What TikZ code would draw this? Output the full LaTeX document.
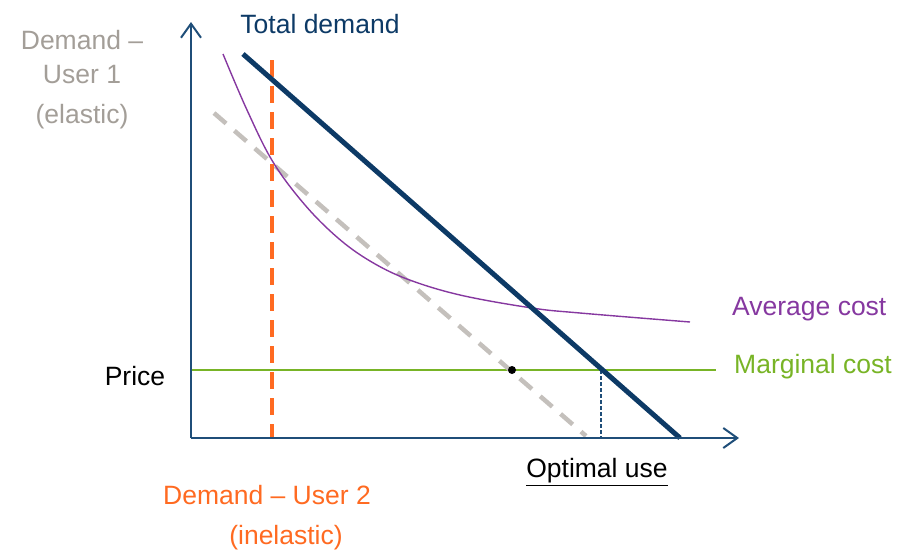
\documentclass[tikz,border=0pt]{standalone}
\usepackage{fontspec}
\setmainfont{Liberation Sans}
\usetikzlibrary{arrows.meta}
\definecolor{navy}{HTML}{0D3A66}
\definecolor{axisblue}{HTML}{1F4E79}
\definecolor{orng}{HTML}{FF6A21}
\definecolor{lgray}{HTML}{C4C0BC}
\definecolor{tgray}{HTML}{A39E98}
\definecolor{purp}{HTML}{8638A0}
\definecolor{grn}{HTML}{78B426}
\tikzset{
  lbl/.style={font=\fontsize{26.5}{30}\selectfont, inner sep=0pt},
  axisline/.style={draw=axisblue, line width=2pt, -{Straight Barb[length=14pt,width=20pt,line width=2pt]}},
}
\begin{document}
\begin{tikzpicture}[x=1pt,y=-1pt]
\useasboundingbox (0,0) rectangle (915,550);
% coordinates
\coordinate (O) at (191,438);
\coordinate (Ytop) at (191,22);
\coordinate (Xend) at (739,438);
\coordinate (TD1) at (243,54);
\coordinate (TD2) at (680,438);
\coordinate (OR1) at (272,60);
\coordinate (OR2) at (272,438);
\coordinate (GR1) at (214,113);
\coordinate (GR2) at (586,436);
\coordinate (MC1) at (191,370);
\coordinate (MC2) at (716,370);
\coordinate (OPT) at (601,370);
\coordinate (OPTb) at (601,438);
% lines
\draw[grn, line width=2pt] (MC1) -- (MC2);
\draw[lgray, line width=4.5pt, dash pattern=on 16pt off 11pt] (GR1) -- (GR2);
\draw[purp, line width=1.4pt] plot[smooth, tension=0.6] coordinates {(223,54) (247,110) (273,162) (305,205) (338,238) (370,261) (407,279) (460,295) (532,308) (580,313) (690,322)};
\draw[orng, line width=4.5pt, dash pattern=on 17pt off 9pt] (OR1) -- (OR2);
\draw[axisblue, line width=1.3pt, dash pattern=on 4pt off 2pt] (OPT) -- (OPTb);
\draw[navy, line width=5pt] (TD1) -- (TD2);
\draw[axisline] (O) -- (Ytop);
\draw[axisline] (O) -- (Xend);
\fill[black] (512,370) circle (4pt) coordinate (dot);
% labels
\node[lbl, text=navy] (tdl) at (320,24) {Total demand};
\node[lbl, text=tgray, align=center, font=\fontsize{26.5}{34}\selectfont] (u1) at (82,80) {Demand –\\User 1\\[6pt](elastic)};
\node[lbl, text=purp, anchor=west] (acl) at (732,309) {Average cost};
\node[lbl, text=grn, anchor=west] (mcl) at (734,367) {Marginal cost};
\node[lbl, text=black] (pr) at (135,376) {Price};
\node[lbl, text=black] (opl) at (597,472) {\underline{Optimal use}};
\node[lbl, text=orng] (u2) at (267,495) {Demand – User 2};
\node[lbl, text=orng] (u2b) at (286,538) {(inelastic)};
\end{tikzpicture}
\end{document}
